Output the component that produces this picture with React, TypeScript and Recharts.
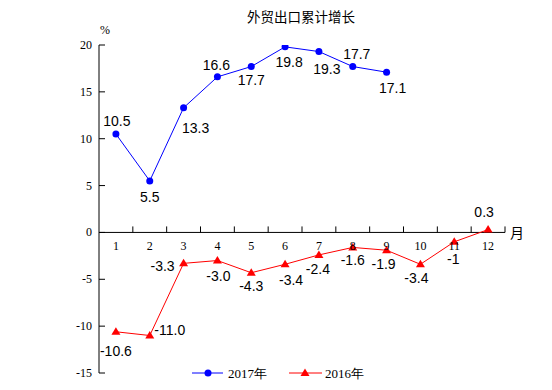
import React from 'react';
import { LineChart, Line, XAxis, YAxis, ReferenceLine, LabelList, Legend } from 'recharts';

const months = ['1', '2', '3', '4', '5', '6', '7', '8', '9', '10', '11', '12'];
const export2017: (number | null)[] = [10.5, 5.5, 13.3, 16.6, 17.7, 19.8, 19.3, 17.7, 17.1, null, null, null];
const export2016: number[] = [-10.6, -11.0, -3.3, -3.0, -4.3, -3.4, -2.4, -1.6, -1.9, -3.4, -1, 0.3];
const labels2017 = ['10.5', '5.5', '13.3', '16.6', '17.7', '19.8', '19.3', '17.7', '17.1'];
const labels2016 = ['-10.6', '-11.0', '-3.3', '-3.0', '-4.3', '-3.4', '-2.4', '-1.6', '-1.9', '-3.4', '-1', '0.3'];
const yTicks = [-15, -10, -5, 0, 5, 10, 15, 20];

const data = months.map((m, i) => ({ m, a: export2017[i], b: export2016[i] }));

// label offsets (style only)
const off2017 = [[1, -13], [0, 16], [12, 20], [-1, -12], [0, 13], [4, 15], [8, 17], [4, -13], [6, 16]];
const off2016 = [[0, 19], [20, -6], [-21, 3], [1, 15], [0, 13], [6, 16], [-1, 14], [0, 13], [-3, 14], [-4, 14], [-1, 17], [-4, -18]];

const W = 544;
const H = 382;
const M = { top: 37, right: 47, bottom: 16, left: 0 };
const YW = 91;
const PLOT_H = H - M.top - M.bottom - 1;
const PLOT_W = W - M.left - M.right - YW;
const ZERO_Y = M.top + (PLOT_H * 20) / 35;
const BAND = PLOT_W / 12;

const serif = '"Liberation Serif", "Times New Roman", serif';
const sans = '"Liberation Sans", Arial, sans-serif';
const cjk = '"Noto Sans CJK SC", sans-serif';

const makeLabel = (labels: string[], offs: number[][]) => (props: any) => {
  const { x, y, index } = props;
  if (x == null || y == null || labels[index] == null) return null;
  const o = offs[index] || [0, -12];
  return (
    <text x={x + o[0]} y={y + o[1]} textAnchor="middle" dominantBaseline="central" fontFamily={sans} fontSize={14} fill="#000">
      {labels[index]}
    </text>
  );
};

const Tri = (props: any) => {
  const { cx, cy } = props;
  if (cx == null || cy == null) return <g />;
  return <polygon points={`${cx},${cy - 4.5} ${cx - 4.5},${cy + 3} ${cx + 4.5},${cy + 3}`} fill="#ff0000" />;
};

const XTick = (props: any) => {
  const { x, payload } = props;
  return (
    <g>
      <line x1={x + BAND / 2} x2={x + BAND / 2} y1={ZERO_Y - 6} y2={ZERO_Y} stroke="#000" strokeWidth={1} />
      <text x={x} y={ZERO_Y + 14} textAnchor="middle" dominantBaseline="central" fontFamily={serif} fontSize={12} fill="#000">
        {payload.value}
      </text>
    </g>
  );
};

const YTick = (props: any) => {
  const { x, y, payload } = props;
  return (
    <g>
      <line x1={x + 6} x2={x + 12} y1={y} y2={y} stroke="#000" strokeWidth={1} />
      <text x={x - 1} y={y} textAnchor="end" dominantBaseline="central" fontFamily={serif} fontSize={12} fill="#000">
        {payload.value}
      </text>
    </g>
  );
};

const LegendContent = () => (
  <svg width={200} height={16} style={{ display: 'block' }}>
    <line x1={4} x2={35} y1={8} y2={8} stroke="#0000ff" strokeWidth={1} />
    <circle cx={20} cy={8} r={3.5} fill="#0000ff" />
    <text x={40} y={8} dominantBaseline="central" fontFamily={serif} fontSize={13} fill="#000">2017年</text>
    <line x1={101} x2={134} y1={8} y2={8} stroke="#ff0000" strokeWidth={1} />
    <polygon points="117,3.5 112.5,11 121.5,11" fill="#ff0000" />
    <text x={137} y={8} dominantBaseline="central" fontFamily={serif} fontSize={13} fill="#000">2016年</text>
  </svg>
);

export default function App() {
  return (
    <div style={{ position: 'relative', width: W, height: H }}>
      <div style={{ position: 'absolute', left: 293, top: 9, transform: 'translate(-50%, -50%)', fontFamily: cjk, fontSize: 13.5, whiteSpace: 'nowrap', color: '#000', lineHeight: 1 }}>
        外贸出口累计增长
      </div>
      <div style={{ position: 'absolute', left: 97, top: 22, transform: 'translate(-50%, -50%)', fontFamily: serif, fontSize: 12, color: '#000', lineHeight: 1 }}>
        %
      </div>
      <div style={{ position: 'absolute', left: 509, top: ZERO_Y, transform: 'translate(-50%, -50%)', fontFamily: cjk, fontSize: 14, color: '#000', lineHeight: 1 }}>
        月
      </div>
      <LineChart width={W} height={H} data={data} margin={M}>
        <XAxis dataKey="m" scale="band" height={1} axisLine={false} tickLine={false} tick={<XTick />} interval={0} />
        <YAxis domain={[-15, 20]} ticks={yTicks} width={YW} tickSize={0} tickMargin={6} axisLine={{ stroke: '#000' }} tickLine={false} tick={<YTick />} interval={0} allowDataOverflow />
        <ReferenceLine y={0} stroke="#000" strokeWidth={1} />
        <Legend layout="horizontal" verticalAlign="middle" align="center" wrapperStyle={{ position: 'absolute', top: 357, left: 180, width: 200, height: 16 }} content={<LegendContent />} />
        <Line dataKey="a" stroke="#0000ff" strokeWidth={1} isAnimationActive={false} dot={{ r: 3.5, fill: '#0000ff', stroke: 'none' }} activeDot={false} connectNulls={false}>
          <LabelList dataKey="a" content={makeLabel(labels2017, off2017)} />
        </Line>
        <Line dataKey="b" stroke="#ff0000" strokeWidth={1} isAnimationActive={false} dot={<Tri />} activeDot={false}>
          <LabelList dataKey="b" content={makeLabel(labels2016, off2016)} />
        </Line>
      </LineChart>
    </div>
  );
}
